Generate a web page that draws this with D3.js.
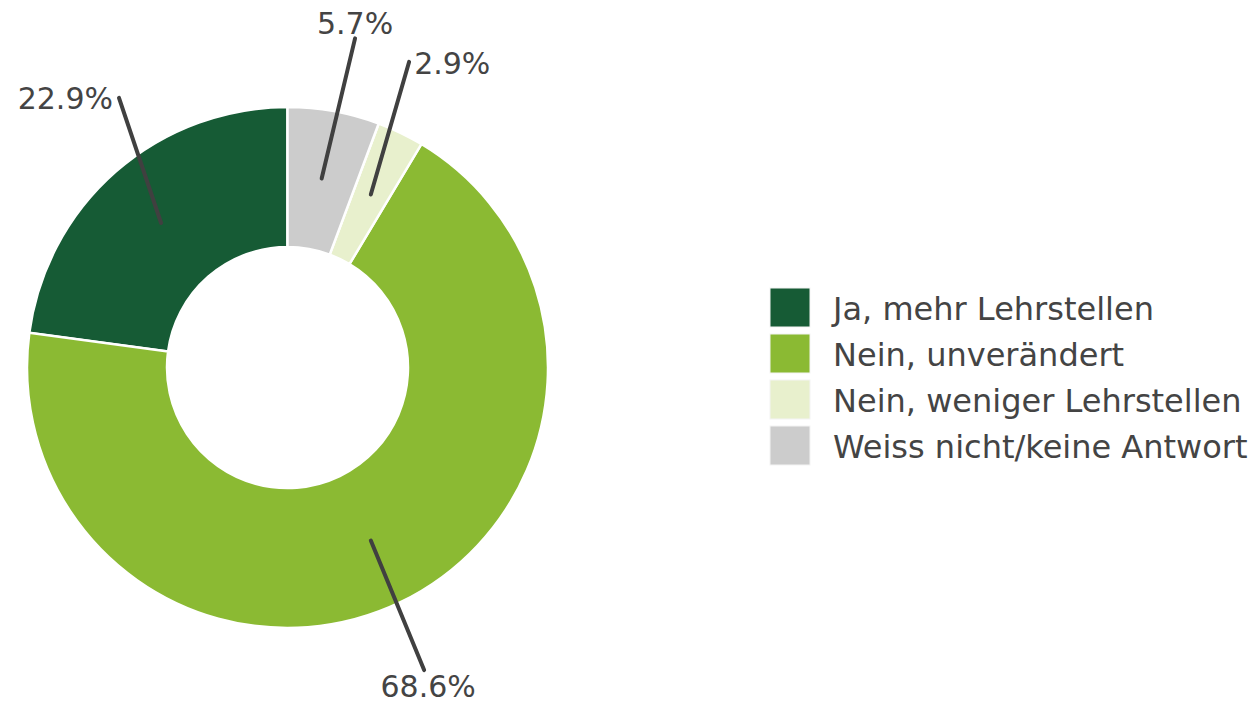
<!DOCTYPE html>
<html>
<head>
<meta charset="utf-8">
<script src="https://cdn.jsdelivr.net/npm/d3@7"></script>
<style>
  body { margin: 0; background: #fff; }
  text { font-family: "DejaVu Sans", sans-serif; fill: #444; }
</style>
</head>
<body>
<div id="chart"></div>
<script>
// data
var categories = ['Ja, mehr Lehrstellen', 'Nein, unverändert', 'Nein, weniger Lehrstellen', 'Weiss nicht/keine Antwort'];
var shares = [22.9, 68.6, 2.9, 5.7];
var colors = ['#165b35', '#8bba33', '#e8f0cd', '#cccccc'];

// label callouts: end point (radius, angle in degrees clockwise from top) and text placement
var labelLayout = [
	{r: 318, deg: -32, anchor: 'end', dx: -6, dy: 0},
	{r: 332, deg: 155.7, anchor: 'middle', dx: 4, dy: 16},
	{r: 329, deg: 21.7, anchor: 'start', dx: 5, dy: 1},
	{r: 336, deg: 11.6, anchor: 'middle', dx: 0, dy: -15}
];

createChart();

function createChart() {
	var width = 1258, height = 703;
	var cx = 287.5, cy = 367.5;
	var outerR = 260.5, innerR = 120.5, lineR = 192;

	var svg = d3.select('#chart').append('svg')
		.attr('width', width)
		.attr('height', height);

	var data = categories.map(function(c, i) { return {label: c, value: shares[i], color: colors[i], lay: labelLayout[i]}; });

	// counterclockwise from 12 o'clock
	var pie = d3.pie().sort(null).startAngle(0).endAngle(-2 * Math.PI).value(function(d) { return d.value; });
	var arc = d3.arc().outerRadius(outerR).innerRadius(innerR);

	var g = svg.append('g').attr('transform', 'translate(' + cx + ',' + cy + ')');
	var arcs = pie(data);

	g.selectAll('path.slice').data(arcs).enter().append('path')
		.attr('class', 'slice')
		.attr('d', arc)
		.style('fill', function(d) { return d.data.color; })
		.style('stroke', '#fff')
		.style('stroke-width', 2.5);

	function polar(r, a) { return [r * Math.sin(a), -r * Math.cos(a)]; }

	var lab = g.selectAll('g.lab').data(arcs).enter().append('g').attr('class', 'lab');

	lab.append('line')
		.each(function(d) {
			var mid = (d.startAngle + d.endAngle) / 2;
			var p0 = polar(lineR, mid);
			var p1 = polar(d.data.lay.r, d.data.lay.deg * Math.PI / 180);
			d3.select(this).attr('x1', p0[0]).attr('y1', p0[1]).attr('x2', p1[0]).attr('y2', p1[1]);
		})
		.style('stroke', '#404040')
		.style('stroke-width', 4)
		.style('stroke-linecap', 'round');

	lab.append('text')
		.each(function(d) {
			var p1 = polar(d.data.lay.r, d.data.lay.deg * Math.PI / 180);
			d3.select(this)
				.attr('x', p1[0] + d.data.lay.dx)
				.attr('y', p1[1] + d.data.lay.dy)
				.attr('dy', '0.36em')
				.attr('text-anchor', d.data.lay.anchor);
		})
		.style('font-size', '30px')
		.text(function(d) { return d.data.value.toFixed(1) + '%'; });

	// legend
	var legend = svg.selectAll('.legend').data(data).enter().append('g')
		.attr('class', 'legend')
		.attr('transform', function(d, i) { return 'translate(770,' + (288 + i * 46) + ')'; });

	legend.append('rect')
		.attr('width', 40)
		.attr('height', 39)
		.style('fill', function(d) { return d.color; })
		.style('stroke', '#f4f4f4')
		.style('stroke-width', 1);

	legend.append('text')
		.attr('x', 63)
		.attr('y', 20)
		.attr('dy', '0.36em')
		.style('font-size', '32px')
		.text(function(d) { return d.label; });
}
</script>
</body>
</html>
